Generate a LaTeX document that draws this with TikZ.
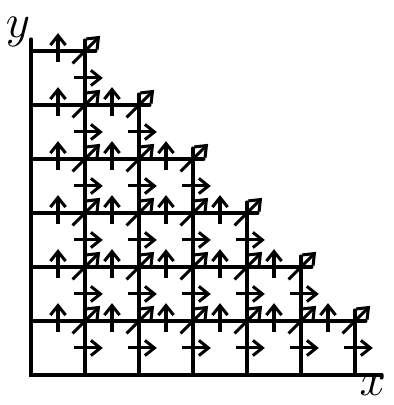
\documentclass[tikz,border=0pt]{standalone}
\usepackage{amsmath}
\usepackage{tikz}
\usetikzlibrary{arrows.meta}

\tikzset{
  gridline/.style={line width=1.8pt, line cap=round},
  flowarrow/.style={line width=1.6pt, -{Straight Barb[length=5pt,width=8pt]}},
  axislabel/.style={font=\fontsize{25}{30}\selectfont, inner sep=0pt},
}

\begin{document}
\begin{tikzpicture}
  \useasboundingbox (-0.574,-0.556) rectangle (6.722,6.944);

  % Axes
  \draw[gridline] (0,6.22) -- (0,0) -- (6.5,0);

  % Staircase grid
  \foreach \k in {1,...,6} {
    \pgfmathtruncatemacro{\m}{7-\k}
    \draw[gridline] (\k,0) -- (\k,\m+0.2);
    \draw[gridline] (0,\k) -- (\m+0.2,\k);
  }

  % Up arrows on horizontal edges
  \foreach \j in {1,...,6} {
    \pgfmathtruncatemacro{\n}{6-\j}
    \foreach \i in {0,...,\n}
      \draw[flowarrow] (\i+0.5,\j-0.2) -- (\i+0.5,\j+0.33);
  }

  % Right arrows on vertical edges
  \foreach \i in {1,...,6} {
    \pgfmathtruncatemacro{\n}{6-\i}
    \foreach \j in {0,...,\n}
      \draw[flowarrow] (\i-0.2,\j+0.5) -- (\i+0.33,\j+0.5);
  }

  % Diagonal arrows at lattice points
  \foreach \i in {1,...,6} {
    \pgfmathtruncatemacro{\n}{7-\i}
    \foreach \j in {1,...,\n}
      \draw[flowarrow] (\i-0.23,\j-0.23) -- (\i+0.28,\j+0.28);
  }

  % Labels
  \node[axislabel] (ylabel) at (-0.24,6.36) {$y$};
  \node[axislabel] (xlabel) at (6.33,-0.2) {$x$};
\end{tikzpicture}
\end{document}
